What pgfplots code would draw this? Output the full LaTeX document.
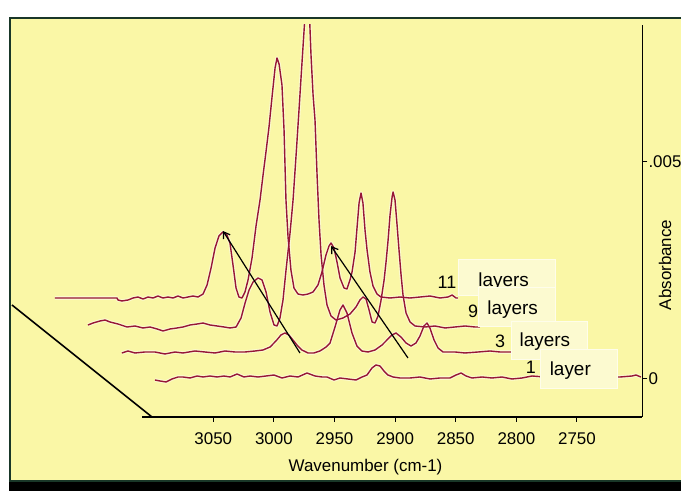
\documentclass[border=0pt]{standalone}
\usepackage{pgfplots}
\pgfplotsset{compat=1.18}
\usepackage{pgfplotstable}
\usetikzlibrary{arrows.meta,backgrounds}
\usepackage{fontspec}
\setmainfont{Liberation Sans}
\definecolor{bgyellow}{RGB}{250,247,166}
\definecolor{boxcol}{RGB}{252,250,208}
\definecolor{trace}{RGB}{150,22,55}
\definecolor{bordergreen}{RGB}{25,55,40}

% true wavenumber (cm-1) and absorbance of each spectrum
\pgfplotstableread{
wn abs
3098.1 -0.000039
3094.0 -0.000062
3089.0 -0.000085
3084.1 -0.000016
3079.1 0.000030
3075.0 0.000030
3069.2 0.000007
3063.4 0.000053
3058.5 0.000030
3052.7 0.000053
3046.9 0.000030
3041.2 0.000053
3036.2 0.000030
3030.4 0.000099
3024.7 0.000030
3019.7 0.000053
3013.1 0.000030
3006.6 0.000053
3000.0 0.000076
2993.3 0.000007
2986.7 0.000053
2980.1 0.000030
2972.7 0.000122
2966.1 0.000053
2960.3 0.000030
2956.2 0.000030
2950.4 -0.000039
2945.5 0.000007
2938.9 -0.000016
2932.3 -0.000039
2927.3 0.000030
2923.2 0.000076
2919.1 0.000238
2915.8 0.000307
2912.5 0.000284
2909.2 0.000168
2905.9 0.000076
2901.7 0.000030
2896.0 0.000007
2887.7 0.000007
2879.5 0.000030
2871.2 -0.000016
2863.0 0.000007
2854.7 0.000007
2849.8 0.000076
2845.6 0.000122
2841.5 0.000053
2836.6 0.000007
2828.3 0.000030
2820.1 0.000007
2811.8 0.000030
2803.6 -0.000016
2795.3 0.000007
2787.1 0.000053
2776.4 0.000030
2764.0 0.000007
2751.6 0.000030
2739.2 0.000007
2726.9 0.000030
2714.5 0.000030
2704.6 0.000053
2701.3 0.000076
2697.2 0.000030
}\layerone

\pgfplotstableread{
wn abs
3096.5 -0.000023
3091.5 0.000023
3085.7 -0.000023
3077.5 0
3069.2 0
3061.0 -0.000046
3052.7 0
3046.1 -0.000023
3036.2 0.000023
3028.0 0
3019.7 -0.000023
3011.5 0.000023
3003.2 0
2995.0 0
2986.7 0.000023
2980.1 0.000046
2974.3 0.000115
2969.4 0.000254
2965.3 0.000392
2962.0 0.000439
2958.7 0.000392
2955.4 0.000277
2952.1 0.000162
2948.0 0.000046
2943.0 -0.000023
2938.1 -0.000023
2933.1 0.000023
2928.1 0.000115
2924.8 0.000208
2920.7 0.000577
2916.6 0.000969
2914.1 0.001085
2910.8 0.000900
2906.7 0.000439
2902.6 0.000138
2898.5 0.000023
2893.5 0
2887.7 0.000046
2881.9 0.000162
2877.0 0.000300
2873.7 0.000392
2870.4 0.000439
2866.3 0.000346
2862.1 0.000208
2858.0 0.000138
2853.9 0.000208
2850.6 0.000369
2847.3 0.000600
2844.8 0.000669
2842.4 0.000554
2839.0 0.000277
2835.7 0.000092
2831.6 0
2821.7 0
2813.5 -0.000023
2802.7 0
2792.8 0.000023
2784.6 0
2776.4 0
2768.1 0
}\layerthree

\pgfplotstableread{
wn abs
3096.5 0
3092.3 0.000046
3086.6 0.000092
3082.4 0.000115
3078.3 0.000069
3071.7 0.000023
3064.3 -0.000046
3057.7 -0.000023
3051.1 -0.000069
3045.3 -0.000046
3039.5 -0.000092
3034.6 -0.000138
3028.8 -0.000092
3023.0 -0.000069
3018.1 -0.000046
3012.3 0
3006.5 0.000023
3001.6 0.000046
2995.8 0
2990.0 -0.000023
2984.2 -0.000046
2979.3 -0.000069
2974.3 -0.000046
2970.2 0.000162
2966.9 0.000508
2963.6 0.000808
2960.3 0.000992
2956.2 0.001085
2952.9 0.001039
2949.6 0.000762
2946.3 0.000300
2943.0 0
2940.5 -0.000023
2938.1 0.000162
2935.6 0.000577
2933.1 0.001269
2929.8 0.002123
2927.3 0.002885
2924.8 0.003924
2922.4 0.004962
2919.9 0.006070
2917.4 0.007155
2915.8 0.007963
2914.1 0.007386
2912.5 0.006232
2910.8 0.005308
2909.2 0.004731
2907.5 0.003462
2905.9 0.002423
2904.2 0.001616
2901.8 0.000923
2899.3 0.000462
2896.0 0.000208
2891.9 0.000115
2886.1 0.000162
2880.3 0.000254
2875.4 0.000415
2872.1 0.000577
2869.6 0.000646
2867.1 0.000600
2864.6 0.000346
2862.1 0.000069
2859.7 0.000046
2857.2 0.000208
2854.7 0.000577
2852.2 0.001039
2850.6 0.001454
2848.9 0.001962
2847.3 0.002539
2845.6 0.002954
2844.8 0.003070
2843.2 0.002885
2841.5 0.002308
2839.9 0.001731
2838.2 0.001154
2836.6 0.000692
2834.1 0.000277
2830.8 0.000069
2826.7 -0.000023
2818.4 -0.000046
2810.2 -0.000023
2801.9 -0.000069
2793.7 -0.000046
2785.4 -0.000023
2777.2 -0.000046
2773.1 -0.000046
}\layernine

\pgfplotstableread{
wn abs
3096.5 -0.000023
3045.3 -0.000023
3044.5 -0.000069
3041.2 -0.000092
3036.2 -0.000069
3032.1 -0.000023
3028.0 0
3023.8 -0.000046
3019.7 0
3015.6 -0.000023
3011.5 0.000023
3007.4 -0.000023
3003.2 0
2999.1 -0.000023
2995.0 0.000023
2990.8 -0.000023
2986.7 0
2982.6 0.000023
2978.5 0
2974.3 0.000069
2971.0 0.000277
2967.7 0.000669
2964.4 0.001131
2961.2 0.001408
2957.9 0.001500
2954.6 0.001431
2952.1 0.001246
2949.6 0.000739
2947.1 0.000208
2944.7 0
2942.2 -0.000023
2939.7 0.000115
2937.2 0.000392
2933.9 0.000900
2930.6 0.001639
2927.3 0.002239
2924.8 0.002816
2922.4 0.003347
2919.9 0.003924
2917.4 0.004616
2914.9 0.005285
2913.3 0.005516
2911.6 0.005378
2909.2 0.004893
2907.5 0.003854
2905.9 0.002239
2904.2 0.001385
2901.8 0.000623
2899.3 0.000208
2896.0 0.000069
2891.9 0.000046
2887.7 0.000069
2883.6 0.000115
2879.5 0.000277
2876.2 0.000577
2872.9 0.000969
2870.4 0.001177
2868.7 0.001246
2866.3 0.001131
2863.8 0.000808
2861.3 0.000439
2858.0 0.000208
2855.6 0.000185
2853.1 0.000392
2851.4 0.000577
2848.9 0.001039
2847.3 0.001593
2845.6 0.002170
2844.0 0.002400
2842.4 0.002170
2840.7 0.001546
2839.0 0.001085
2836.6 0.000577
2834.1 0.000254
2830.8 0.000069
2827.5 0
2820.1 -0.000023
2811.8 0
2803.6 -0.000023
2795.3 0
2787.1 0.000023
2778.8 -0.000023
2772.2 0
2768.9 0.000046
2765.6 -0.000023
2764.0 -0.000023
}\layereleven

\begin{document}
\begin{tikzpicture}[x=1bp,y=1bp]
\begin{axis}[
  name=ax,
  scale only axis, width=631.3bp, height=392bp,
  xmin=2696.1, xmax=3216.9, ymin=-0.000893, ymax=0.008154,
  x dir=reverse, clip mode=individual,
  axis x line*=bottom, axis y line*=right,
  x axis line style={draw=none},
  y axis line style={line width=1.2bp, black},
  xtick={2750,2800,2850,2900,2950,3000,3050},
  ytick={0,0.005}, yticklabels={0,.005},
  scaled y ticks=false, scaled x ticks=false,
  tick align=outside, major tick length=5bp,
  tick style={black, line width=1bp},
  /pgf/number format/1000 sep={},
  /pgf/number format/assume math mode=true,
  ticklabel style={font=\fontsize{17}{17}\selectfont, inner sep=0pt},
  xticklabel style={anchor=north, yshift=-10bp},
  yticklabel style={anchor=west, xshift=1bp},
  spec/.style={color=trace, line width=1.4bp, mark=none, line join=round, solid},
  halo/.style={color=white, line width=3.6bp, mark=none, line join=round, opacity=0.45},
]
% faint white halo under each trace (as in the scanned original)
\addplot[halo] table[x=wn, y=abs] {\layerone};
\addplot[halo] table[x expr=\thisrow{wn}+28.9, y expr=\thisrow{abs}+0.000607] {\layerthree};
\addplot[halo] table[x expr=\thisrow{wn}+56.9, y expr=\thisrow{abs}+0.00123] {\layernine};
\addplot[halo] table[x expr=\thisrow{wn}+84.15, y expr=\thisrow{abs}+0.001876] {\layereleven};
% the spectra
\addplot[spec] table[x=wn, y=abs] {\layerone};
\addplot[spec] table[x expr=\thisrow{wn}+28.9, y expr=\thisrow{abs}+0.000607] {\layerthree};
\addplot[spec] table[x expr=\thisrow{wn}+56.9, y expr=\thisrow{abs}+0.00123] {\layernine};
\addplot[spec] table[x expr=\thisrow{wn}+84.15, y expr=\thisrow{abs}+0.001876] {\layereleven};

% image origin (bottom-left corner of the whole figure)
\coordinate (O) at (axis cs:3225.97,-0.002601);

% frame lines of the pseudo-3D box
\draw[black, line width=1.2bp] (axis cs:3108.8,-0.000893) -- (axis cs:2696.1,-0.000893);
\draw[black, line width=1.6bp] (axis cs:3216.1,0.001692) -- (axis cs:3100.6,-0.000893);

% arrows
\draw[black, line width=1.2bp, -{Straight Barb[length=6bp,width=8bp]}] (axis cs:2978.5,0.000584) -- (axis cs:3042.0,0.0034);
\draw[black, line width=1.2bp, -{Straight Barb[length=6bp,width=8bp]}] (axis cs:2889.4,0.000469) -- (axis cs:2952.9,0.003054);

% labels
\tikzset{lbox/.style={fill=boxcol, draw=white!55!boxcol, line width=0.8bp},
         ltext/.style={font=\fontsize{19}{19}\selectfont, anchor=base, inner sep=0pt},
         lnum/.style={font=\fontsize{18}{18}\selectfont, anchor=base, inner sep=0pt}}
\node[lnum] at (axis cs:2857.2,0.002077) {11};
\filldraw[lbox] (axis cs:2848.1,0.002753) rectangle (axis cs:2768.1,0.001923);
\node[ltext] at (axis cs:2810.5,0.00213) {layers};
\node[lnum] at (axis cs:2835.7,0.001403) {9};
\filldraw[lbox] (axis cs:2831.6,0.002107) rectangle (axis cs:2768.1,0.001207);
\node[ltext] at (axis cs:2803.0,0.001461) {layers};
\node[lnum] at (axis cs:2813.5,0.000715) {3};
\filldraw[lbox] (axis cs:2804.4,0.001322) rectangle (axis cs:2741.7,0.000445);
\node[ltext] at (axis cs:2776.4,0.000729) {layers};
\node[lnum] at (axis cs:2788.1,0.000115) {1};
\filldraw[lbox] (axis cs:2780.5,0.000676) rectangle (axis cs:2716.9,-0.000224);
\node[ltext] at (axis cs:2755.5,0.00006) {layer};

\node[font=\fontsize{17}{17}\selectfont] at (axis cs:2924.4,-0.002047) {Wavenumber (cm-1)};
\node[font=\fontsize{17}{17}\selectfont, rotate=90] at (axis cs:2677.4,0.002615) {Absorbance};
\end{axis}
\begin{scope}[on background layer, shift={(O)}]
\fill[white] (0,0) rectangle (681,491);
\fill[bgyellow] (11,10) rectangle (681,472);
\fill[black] (9,0) rectangle (681,9.5);
\draw[bordergreen, line width=1.6bp] (9,10.2) -- (681,10.2);
\draw[bordergreen, line width=2.4bp] (10.2,10) -- (10.2,473.2) -- (681,473.2);
\end{scope}
\pgfresetboundingbox
\useasboundingbox (O) rectangle ++(681,491);
\end{tikzpicture}
\end{document}
